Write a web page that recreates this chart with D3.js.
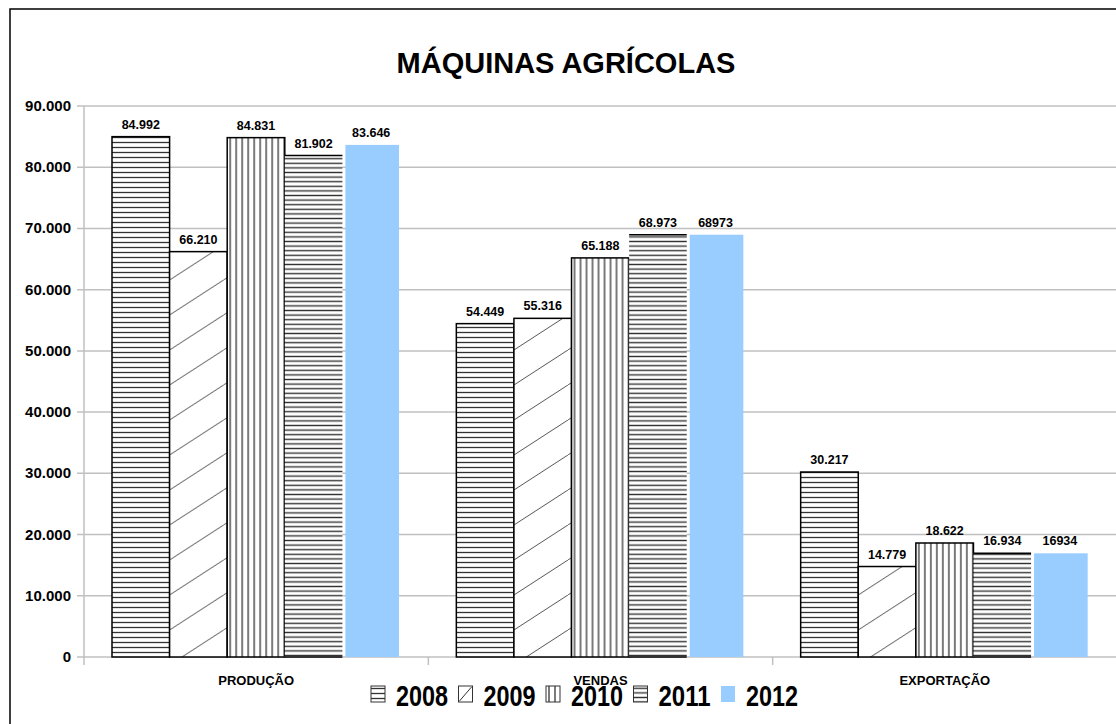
<!DOCTYPE html>
<html>
<head>
<meta charset="utf-8">
<script src="https://cdn.jsdelivr.net/npm/d3@7"></script>
<style>
  body { margin: 0; background: #fff; }
  text { font-family: "Liberation Sans", Arial, sans-serif; font-weight: bold; }
</style>
</head>
<body>
<svg width="1116" height="724"></svg>
<script>
var categories = ["PRODUÇÃO", "VENDAS", "EXPORTAÇÃO"];
var years = ["2008", "2009", "2010", "2011", "2012"];
var values = {
  "2008": [84992, 54449, 30217],
  "2009": [66210, 55316, 14779],
  "2010": [84831, 65188, 18622],
  "2011": [81902, 68973, 16934],
  "2012": [83646, 68973, 16934]
};
var labels = {
  "2008": ["84.992", "54.449", "30.217"],
  "2009": ["66.210", "55.316", "14.779"],
  "2010": ["84.831", "65.188", "18.622"],
  "2011": ["81.902", "68.973", "16.934"],
  "2012": ["83.646", "68973", "16934"]
};
var yTicks = [0, 10000, 20000, 30000, 40000, 50000, 60000, 70000, 80000, 90000];

var svg = d3.select("svg"),
    width = +svg.attr("width"),
    height = +svg.attr("height");

// patterns
var defs = svg.append("defs");
var p;
p = defs.append("pattern").attr("id", "p2008").attr("patternUnits", "userSpaceOnUse")
    .attr("width", 10).attr("height", 5);
p.append("rect").attr("width", 10).attr("height", 5).attr("fill", "#fff");
p.append("line").attr("x1", 0).attr("x2", 10).attr("y1", 2.5).attr("y2", 2.5)
    .attr("stroke", "#333").attr("stroke-width", 1.3);

p = defs.append("pattern").attr("id", "p2009").attr("patternUnits", "userSpaceOnUse")
    .attr("width", 54).attr("height", 35);
p.append("rect").attr("width", 54).attr("height", 35).attr("fill", "#fff");
p.append("line").attr("x1", 0).attr("y1", 35).attr("x2", 54).attr("y2", 0)
    .attr("stroke", "#555").attr("stroke-width", 1);
p.append("line").attr("x1", -54).attr("y1", 35).attr("x2", 0).attr("y2", 0)
    .attr("stroke", "#555").attr("stroke-width", 1);
p.append("line").attr("x1", 54).attr("y1", 35).attr("x2", 108).attr("y2", 0)
    .attr("stroke", "#555").attr("stroke-width", 1);

p = defs.append("pattern").attr("id", "p2010").attr("patternUnits", "userSpaceOnUse")
    .attr("width", 6).attr("height", 10);
p.append("rect").attr("width", 6).attr("height", 10).attr("fill", "#fff");
p.append("line").attr("x1", 3).attr("x2", 3).attr("y1", 0).attr("y2", 10)
    .attr("stroke", "#333").attr("stroke-width", 1.3);

p = defs.append("pattern").attr("id", "p2011").attr("patternUnits", "userSpaceOnUse")
    .attr("width", 10).attr("height", 4.6);
p.append("rect").attr("width", 10).attr("height", 4.6).attr("fill", "#fff");
p.append("line").attr("x1", 0).attr("x2", 10).attr("y1", 2.3).attr("y2", 2.3)
    .attr("stroke", "#333").attr("stroke-width", 1.4);

var fills = {"2008": "url(#p2008)", "2009": "url(#p2009)", "2010": "url(#p2010)", "2011": "url(#p2011)", "2012": "#99ccff"};

// outer frame
svg.append("rect").attr("x", 10).attr("y", 9).attr("width", width).attr("height", height)
    .attr("fill", "none").attr("stroke", "#000").attr("stroke-width", 1.5);

svg.append("text").attr("x", 566).attr("y", 73).attr("text-anchor", "middle")
    .style("font-size", "29px").text("MÁQUINAS AGRÍCOLAS");

var x0 = d3.scaleBand().domain(categories).range([84, 1117]);
var x1 = d3.scaleBand().domain(years).range([28, 316]);
var y = d3.scaleLinear().domain([0, 90000]).range([657, 106]);

// grid
svg.append("g").selectAll("line").data(yTicks).enter().append("line")
    .attr("x1", 77).attr("x2", width)
    .attr("y1", function(d) { return y(d); }).attr("y2", function(d) { return y(d); })
    .attr("stroke", "#c0c0c0").attr("stroke-width", 1.5);

svg.append("line").attr("x1", 84).attr("x2", 84).attr("y1", y(90000)).attr("y2", 665)
    .attr("stroke", "#c0c0c0").attr("stroke-width", 1.5);

svg.append("g").selectAll("line").data(categories.slice(1)).enter().append("line")
    .attr("x1", function(d) { return x0(d); }).attr("x2", function(d) { return x0(d); })
    .attr("y1", 657).attr("y2", 665)
    .attr("stroke", "#c0c0c0").attr("stroke-width", 1.5);

svg.append("g").selectAll("text").data(yTicks).enter().append("text")
    .attr("x", 71).attr("y", function(d) { return y(d) + 5; })
    .attr("text-anchor", "end").style("font-size", "15px")
    .text(function(d) { return d3.format(",")(d).replace(/,/g, "."); });

// bars
var rows = [];
categories.forEach(function(c, i) {
  years.forEach(function(yr) {
    rows.push({cat: c, year: yr, value: values[yr][i], label: labels[yr][i]});
  });
});

var bars = svg.append("g").selectAll("g").data(rows).enter().append("g")
    .attr("transform", function(d) { return "translate(" + (x0(d.cat) + x1(d.year)) + ",0)"; });

bars.append("rect")
    .attr("x", function(d) { return d.year == "2012" ? 3 : 0; })
    .attr("width", function(d) { return d.year == "2012" ? x1.bandwidth() - 4 : x1.bandwidth(); })
    .attr("y", function(d) { return y(d.value); })
    .attr("height", function(d) { return y(0) - y(d.value); })
    .attr("fill", function(d) { return fills[d.year]; })
    .attr("stroke", function(d) { return (d.year == "2012" || d.year == "2011") ? "none" : "#000"; })
    .attr("stroke-width", 1.5);

// 2011 bars: top and bottom edges only
bars.filter(function(d) { return d.year == "2011"; }).append("path")
    .attr("d", function(d) {
      return "M0," + y(d.value) + "H" + x1.bandwidth() + "M0," + y(0) + "H" + x1.bandwidth();
    })
    .attr("stroke", "#000").attr("stroke-width", 1.5);

bars.append("text")
    .attr("x", x1.bandwidth() / 2)
    .attr("y", function(d) { return y(d.value) - 8; })
    .attr("text-anchor", "middle").style("font-size", "12.5px")
    .text(function(d) { return d.label; });

// category labels
svg.append("g").selectAll("text").data(categories).enter().append("text")
    .attr("x", function(d) { return x0(d) + x0.bandwidth() / 2; })
    .attr("y", 685).attr("text-anchor", "middle").style("font-size", "13px")
    .text(function(d) { return d; });

// legend
var legend = svg.append("g").selectAll("g").data(years).enter().append("g")
    .attr("transform", function(d, i) { return "translate(" + (371 + i * 87.5) + ",686)"; });

legend.append("rect").attr("width", 14).attr("height", 16)
    .attr("fill", function(d) { return d == "2009" ? "#fff" : fills[d]; })
    .attr("stroke", function(d) { return d == "2012" ? "none" : "#333"; })
    .attr("stroke-width", 1);

// the 2009 hatch is too sparse to show in a small key, draw one stroke
legend.filter(function(d) { return d == "2009"; }).append("line")
    .attr("x1", 1).attr("y1", 15).attr("x2", 13).attr("y2", 1)
    .attr("stroke", "#333").attr("stroke-width", 1);

legend.append("text").attr("x", 25).attr("y", 20)
    .attr("textLength", 52).attr("lengthAdjust", "spacingAndGlyphs")
    .style("font-size", "30px").text(function(d) { return d; });
</script>
</body>
</html>
